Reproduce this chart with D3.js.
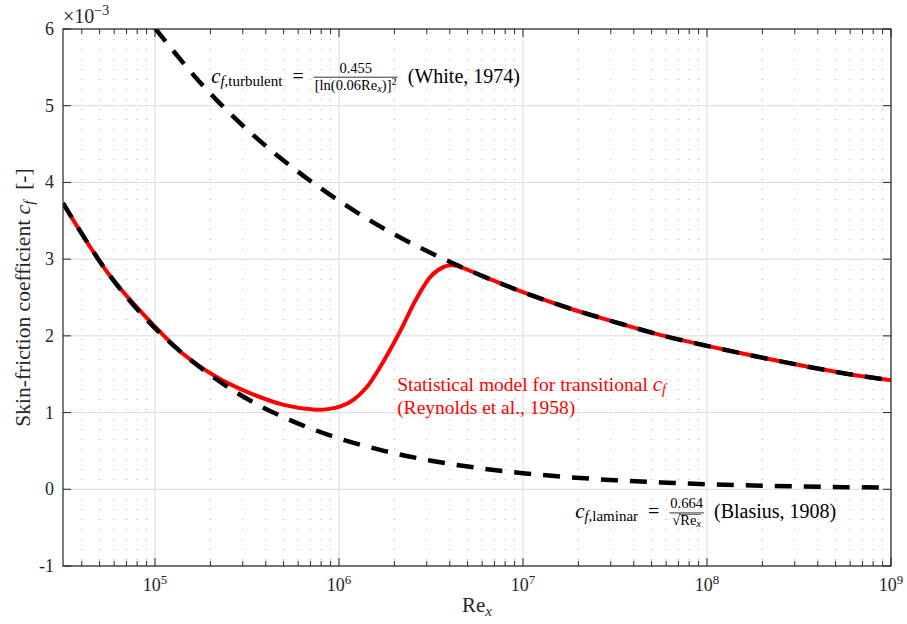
<!DOCTYPE html>
<html>
<head>
<meta charset="utf-8">
<script src="https://cdn.jsdelivr.net/npm/d3@7"></script>
<style>
body { margin: 0; background: #fff; }
text { font-family: "Liberation Serif", "DejaVu Serif", serif; white-space: pre; }
</style>
</head>
<body>
<svg id="chart" width="907" height="624"></svg>
<script>
// values, cf given in units of 1e-3
const reLam = [3.162e4, 5.623e4, 1e5, 1.778e5, 3.162e5, 5.623e5, 1e6, 1.778e6, 3.162e6, 5.623e6,
               1e7, 1.778e7, 3.162e7, 5.623e7, 1e8, 1.778e8, 3.162e8, 5.623e8, 1e9]
const cfLam = [3.73, 2.80, 2.10, 1.58, 1.18, 0.885, 0.664, 0.498, 0.373, 0.280,
               0.210, 0.158, 0.118, 0.089, 0.066, 0.050, 0.037, 0.028, 0.021]

const reTurb = [1e5, 1.778e5, 3.162e5, 5.623e5, 1e6, 1.778e6, 3.162e6, 5.623e6, 1e7,
                1.778e7, 3.162e7, 5.623e7, 1e8, 1.778e8, 3.162e8, 5.623e8, 1e9]
const cfTurb = [6.01, 5.29, 4.69, 4.19, 3.76, 3.39, 3.08, 2.81, 2.57,
                2.36, 2.18, 2.01, 1.87, 1.74, 1.62, 1.51, 1.42]

const reTrans = [3.162e4, 5.623e4, 1e5, 1.413e5, 2.138e5, 3.162e5, 5.012e5, 7.244e5, 8.7e5,
                 1.02e6, 1.202e6, 1.413e6, 1.738e6, 2.138e6, 2.630e6, 3.162e6, 3.715e6, 4.169e6,
                 4.786e6, 6.310e6, 1e7, 1.778e7, 3.162e7, 5.623e7, 1e8, 1.778e8, 3.162e8,
                 5.623e8, 1e9]
const cfTrans = [3.73, 2.80, 2.12, 1.77, 1.47, 1.27, 1.10, 1.04, 1.045,
                 1.08, 1.17, 1.33, 1.66, 2.05, 2.48, 2.78, 2.90, 2.92,
                 2.88, 2.76, 2.57, 2.36, 2.18, 2.01, 1.87, 1.74, 1.62,
                 1.51, 1.42]

const yTicks = [-1, 0, 1, 2, 3, 4, 5, 6]
const xMajor = [1e5, 1e6, 1e7, 1e8, 1e9]
const xExp = ["5", "6", "7", "8", "9"]

// plot box (window.top is reserved, so no "top" here)
var pL = 63, pR = 891, pT = 29, pB = 566
var axisColor = "#262626"

var svg = d3.select("#chart")

var x = d3.scaleLog().domain([31622.8, 1e9]).range([pL, pR])
var y = d3.scaleLinear().domain([-1, 6]).range([pB, pT])

svg.append("defs").append("clipPath").attr("id", "plotclip")
  .append("rect").attr("x", pL).attr("y", pT)
  .attr("width", pR - pL).attr("height", pB - pT)

// minor grid (dotted) on x
var allX = x.ticks().filter(d => d > x.domain()[0])
var minorX = allX.filter(d => xMajor.indexOf(d) < 0)

svg.append("g").selectAll("line").data(minorX).join("line")
  .attr("x1", d => x(d)).attr("x2", d => x(d))
  .attr("y1", pT).attr("y2", pB)
  .attr("stroke", "#a8a8a8").attr("stroke-width", 1)
  .attr("stroke-dasharray", "1,9")

// major grid
svg.append("g").selectAll("line").data(xMajor).join("line")
  .attr("x1", d => x(d)).attr("x2", d => x(d))
  .attr("y1", pT).attr("y2", pB)
  .attr("stroke", "#dadada").attr("stroke-width", 1)
svg.append("g").selectAll("line").data(yTicks).join("line")
  .attr("x1", pL).attr("x2", pR)
  .attr("y1", d => y(d)).attr("y2", d => y(d))
  .attr("stroke", "#dadada").attr("stroke-width", 1)

// curves
var plot = svg.append("g").attr("clip-path", "url(#plotclip)")
var line = d3.line().x(d => x(d[0])).y(d => y(d[1])).curve(d3.curveCatmullRom.alpha(0.5))

plot.append("path")
  .attr("d", line(d3.zip(reTrans, cfTrans)))
  .attr("fill", "none").attr("stroke", "#ff0000").attr("stroke-width", 4)

plot.append("path")
  .attr("d", line(d3.zip(reLam, cfLam)))
  .attr("fill", "none").attr("stroke", "#000").attr("stroke-width", 4.5)
  .attr("stroke-dasharray", "17,12")

plot.append("path")
  .attr("d", line(d3.zip(reTurb, cfTurb)))
  .attr("fill", "none").attr("stroke", "#000").attr("stroke-width", 4.5)
  .attr("stroke-dasharray", "17,12")

// axes box
svg.append("rect").attr("x", pL).attr("y", pT)
  .attr("width", pR - pL).attr("height", pB - pT)
  .attr("fill", "none").attr("stroke", axisColor).attr("stroke-width", 1.2)

// x ticks, bottom and top
var ticksG = svg.append("g").attr("stroke", axisColor).attr("stroke-width", 1)
allX.forEach(function(d) {
  var len = xMajor.indexOf(d) >= 0 ? 8 : 5
  ticksG.append("line").attr("x1", x(d)).attr("x2", x(d)).attr("y1", pB).attr("y2", pB - len)
  ticksG.append("line").attr("x1", x(d)).attr("x2", x(d)).attr("y1", pT).attr("y2", pT + len)
})
yTicks.forEach(function(d) {
  ticksG.append("line").attr("x1", pL).attr("x2", pL + 8).attr("y1", y(d)).attr("y2", y(d))
  ticksG.append("line").attr("x1", pR).attr("x2", pR - 8).attr("y1", y(d)).attr("y2", y(d))
})

// y tick labels
svg.append("g").selectAll("text").data(yTicks).join("text")
  .attr("x", pL - 9).attr("y", d => y(d) + 6)
  .attr("text-anchor", "end").attr("fill", axisColor)
  .style("font-size", "18px")
  .text(d => d < 0 ? "-" + Math.abs(d) : d)

// x tick labels 10^n
xMajor.forEach(function(d, i) {
  var t = svg.append("text").attr("y", 591).attr("fill", axisColor)
  t.append("tspan").style("font-size", "18px").text("10")
  t.append("tspan").style("font-size", "13px").attr("dy", -7).text(xExp[i])
  var w = t.node().getComputedTextLength()
  t.attr("x", x(d) - w / 2)
})

// exponent marker
var ex = svg.append("text").attr("x", 63).attr("y", 23).attr("fill", axisColor)
ex.append("tspan").style("font-size", "20px").text("×10")
ex.append("tspan").style("font-size", "14px").attr("dy", -8).text("−3")

// axis labels
var xl = svg.append("text").attr("y", 612).attr("fill", axisColor)
xl.append("tspan").style("font-size", "21px").text("Re")
xl.append("tspan").style("font-size", "15px").style("font-style", "italic").attr("dy", 4).text("x")
xl.attr("x", (pL + pR) / 2 - xl.node().getComputedTextLength() / 2)

var yl = svg.append("text").attr("fill", axisColor)
yl.append("tspan").style("font-size", "21.5px").text("Skin-friction coefficient ")
yl.append("tspan").style("font-size", "22px").style("font-style", "italic").text("c")
yl.append("tspan").style("font-size", "15px").style("font-style", "italic").attr("dy", 4).text("f")
yl.append("tspan").style("font-size", "21.5px").attr("dy", -4).text("  [-]")
var ylw = yl.node().getComputedTextLength()
yl.attr("transform", "translate(30," + ((pT + pB) / 2 + ylw / 2) + ") rotate(-90)")

// annotation helpers: a run of pieces [text, size, italic, dy]
function run(g, x0, y0, segs, fill) {
  var cx = x0
  segs.forEach(function(s) {
    var t = g.append("text").attr("x", cx).attr("y", y0 + (s[3] || 0))
      .attr("fill", fill)
      .style("font-size", s[1] + "px")
      .style("font-style", s[2] ? "italic" : "normal")
      .text(s[0])
    cx += t.node().getComputedTextLength()
  })
  return cx - x0
}

function frac(g, x0, y0, num, den, fill, rad) {
  var gn = g.append("g"), gd = g.append("g")
  var wn = run(gn, 0, 0, num, fill), wd = run(gd, 0, 0, den, fill)
  var w = Math.max(wn, wd) + 2
  gn.attr("transform", "translate(" + (x0 + (w - wn) / 2) + "," + (y0 - 10) + ")")
  gd.attr("transform", "translate(" + (x0 + (w - wd) / 2) + "," + (y0 + 7) + ")")
  g.append("line").attr("x1", x0).attr("x2", x0 + w)
    .attr("y1", y0 - 5.5).attr("y2", y0 - 5.5)
    .attr("stroke", fill).attr("stroke-width", 0.8)
  if (rad) {
    g.append("line").attr("x1", x0 + (w - wd) / 2 + rad).attr("x2", x0 + (w + wd) / 2)
      .attr("y1", y0 - 4).attr("y2", y0 - 4)
      .attr("stroke", fill).attr("stroke-width", 0.6)
  }
  return w
}

// turbulent annotation
var ga = svg.append("g")
var ax = x(2.02e5), ay = y(5.3)
ax += run(ga, ax, ay, [["c", 21, true], ["f", 14.5, true, 3], [",turbulent", 15, false, 3], ["\u2002=\u2002", 20, false]], "#000")
ax += frac(ga, ax, ay, [["0.455", 14.5, false]],
  [["[ln(0.06Re", 14.5, false], ["x", 10.5, true, 2], [")]", 14.5, false], ["2", 10.5, false, -5]], "#000")
run(ga, ax, ay, [["\u2002(White, 1974)", 20, false]], "#000")

// laminar annotation
var gb = svg.append("g")
var bx = x(1.92e7), by = y(-0.38)
bx += run(gb, bx, by, [["c", 21, true], ["f", 14.5, true, 3], [",laminar", 15, false, 3], ["\u2002=\u2002", 20, false]], "#000")
bx += frac(gb, bx, by, [["0.664", 14.5, false]],
  [["√", 14.5, false], ["Re", 14.5, false], ["x", 10.5, true, 2]], "#000", 7)
run(gb, bx, by, [["\u2002(Blasius, 1908)", 20, false]], "#000")

// transitional annotation
var gc = svg.append("g")
var cx0 = x(2.07e6)
run(gc, cx0, y(1.28), [["Statistical model for transitional ", 19.5, false], ["c", 21, true], ["f", 14.5, true, 3]], "#ff0000")
run(gc, cx0, y(0.98), [["(Reynolds et al., 1958)", 19.5, false]], "#ff0000")
</script>
</body>
</html>
